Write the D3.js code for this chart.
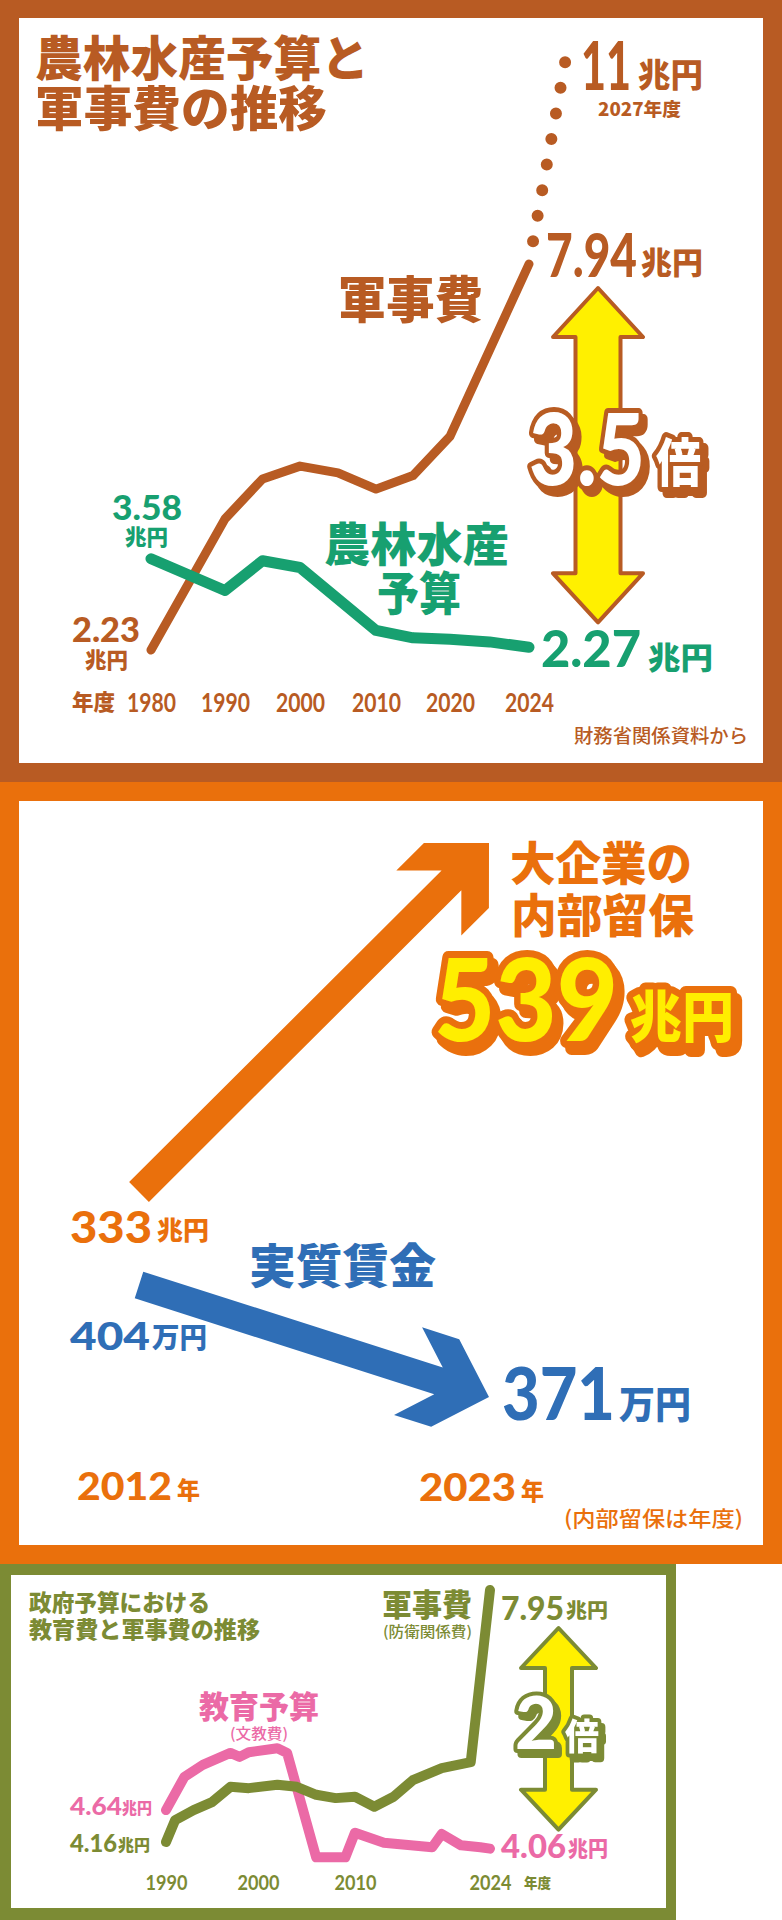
<!DOCTYPE html>
<html>
<head>
<meta charset="utf-8">
<script src="https://cdn.jsdelivr.net/npm/d3@7"></script>
<style>
  body { margin: 0; background: #fff; }
  svg { display: block; }
</style>
</head>
<body>
<div id="chart"></div>
<script>
// ---- data ----
// panel 1: 農林水産予算と軍事費 (兆円)
const p1TickYears = [1980, 1990, 2000, 2010, 2020, 2024];
const defenseYears = [1980, 1990, 1995, 2000, 2005, 2010, 2015, 2020, 2024];
const defenseValues = [2.23, 4.17, 4.76, 4.95, 4.85, 4.61, 4.81, 5.39, 7.94];
const forecastYears = [2024, 2027];
const forecastValues = [7.94, 11];
const farmYears = [1980, 1990, 1995, 2000, 2010, 2015, 2020, 2022, 2024];
const farmValues = [3.58, 3.11, 3.55, 3.45, 2.52, 2.41, 2.39, 2.35, 2.27];

// panel 2: 内部留保 (兆円) と 実質賃金 (万円)
const p2Years = [2012, 2023];
const retainedValues = [333, 539];
const wageValues = [404, 371];

// panel 3: 教育費と軍事費 (兆円)
const p3TickYears = [1990, 2000, 2010, 2024];
const eduYears = [1990, 1992, 1994, 1997, 1998, 1999, 2002, 2003, 2006, 2009, 2010, 2013, 2018, 2019, 2021, 2023, 2024];
const eduValues = [4.64, 5.14, 5.32, 5.50, 5.44, 5.51, 5.57, 5.50, 3.93, 3.93, 4.30, 4.15, 4.08, 4.28, 4.11, 4.08, 4.06];
const milYears = [1990, 1991, 1993, 1995, 1997, 1999, 2002, 2004, 2006, 2008, 2010, 2012, 2014, 2016, 2019, 2022, 2024];
const milValues = [4.16, 4.49, 4.64, 4.76, 4.99, 4.97, 5.02, 4.99, 4.87, 4.82, 4.84, 4.69, 4.84, 5.09, 5.27, 5.36, 7.95];

// ---- colours / fonts ----
const BROWN = "#b85b23", GREEN = "#17a070", ORANGE = "#ea700c", BLUE = "#2f6eb6",
      OLIVE = "#7c8b34", PINK = "#eb6aa6", YELLOW = "#fff000";
const JP = "'Noto Sans CJK JP', 'Noto Sans', sans-serif";
const NUM = "Lato, 'Noto Sans', sans-serif";

const svg = d3.select("#chart").append("svg").attr("width", 782).attr("height", 1920);
const defs = svg.append("defs");

// solid offset shadow, so the big numbers need no duplicate text
function shadowFilter(id, color, dx, dy) {
    let f = defs.append("filter").attr("id", id)
        .attr("x", "-20%").attr("y", "-20%").attr("width", "140%").attr("height", "140%");
    f.append("feFlood").attr("flood-color", color).attr("result", "c");
    f.append("feComposite").attr("in", "c").attr("in2", "SourceAlpha").attr("operator", "in").attr("result", "s");
    f.append("feOffset").attr("in", "s").attr("dx", dx).attr("dy", dy).attr("result", "o");
    let m = f.append("feMerge");
    m.append("feMergeNode").attr("in", "o");
    m.append("feMergeNode").attr("in", "SourceGraphic");
}
shadowFilter("shBrown", BROWN, 5, 6);
shadowFilter("shOrange", ORANGE, 5, 7);
shadowFilter("shOlive", OLIVE, 4, 5);

function label(g, txt, x, y, o) {
    let t = g.append("text")
        .attr("x", x).attr("y", y).text(txt)
        .attr("font-family", o.font || JP)
        .attr("font-weight", o.weight || 900)
        .attr("font-size", o.size)
        .attr("fill", o.color)
        .attr("text-anchor", o.anchor || "start");
    if (o.len) t.attr("textLength", o.len).attr("lengthAdjust", "spacingAndGlyphs");
    return t;
}

// outlined text with an offset shadow
function bigText(g, txt, x, y, o) {
    label(g, txt, x, y, Object.assign({}, o, {color: o.fill}))
        .attr("stroke", o.stroke).attr("stroke-width", o.sw).attr("stroke-linejoin", "round")
        .attr("paint-order", "stroke").attr("filter", "url(#" + o.filter + ")");
}

function frame(g, x, y, w, h, bw, color) {
    g.append("rect").attr("x", x).attr("y", y).attr("width", w).attr("height", h).attr("fill", color);
    g.append("rect").attr("x", x + bw[3]).attr("y", y + bw[0])
        .attr("width", w - bw[1] - bw[3]).attr("height", h - bw[0] - bw[2]).attr("fill", "#fff");
}

function doubleArrow(g, cx, top, bottom, headW, headL, shaftW, stroke) {
    let hw = headW / 2, sw = shaftW / 2;
    let pts = [[cx, top], [cx + hw, top + headL], [cx + sw, top + headL], [cx + sw, bottom - headL],
        [cx + hw, bottom - headL], [cx, bottom], [cx - hw, bottom - headL], [cx - sw, bottom - headL],
        [cx - sw, top + headL], [cx - hw, top + headL]];
    g.append("polygon").attr("points", pts.map(p => p.join(",")).join(" "))
        .attr("fill", YELLOW).attr("stroke", stroke).attr("stroke-width", 4).attr("stroke-linejoin", "round");
}

// thick arrow with a chevron head, from tail point to tip point
function chevronArrow(g, x0, y0, x1, y1, color) {
    let len = Math.hypot(x1 - x0, y1 - y0);
    let ux = (x1 - x0) / len, uy = (y1 - y0) / len, vx = -uy, vy = ux;
    let local = [[-len, -14], [-53, -14], [-85, -46], [-46, -46], [0, 0],
        [-46, 46], [-85, 46], [-53, 14], [-len, 14]];
    let pts = local.map(([a, b]) => [x1 + a * ux + b * vx, y1 + a * uy + b * vy]);
    g.append("polygon").attr("points", pts.map(p => p.join(",")).join(" ")).attr("fill", color);
}

function yearAxis(g, scale, ticks, y, size, len, color) {
    let ax = g.append("g").attr("transform", "translate(0," + y + ")")
        .call(d3.axisBottom(scale).tickValues(ticks).tickSize(0).tickFormat(d3.format("d")));
    ax.select(".domain").remove();
    ax.selectAll("text").attr("y", 0).attr("dy", null)
        .attr("font-family", NUM).attr("font-weight", 700).attr("font-size", size)
        .attr("fill", color).attr("textLength", len).attr("lengthAdjust", "spacingAndGlyphs");
}

function drawLine(g, line, xs, ys, color, w) {
    g.append("path").attr("d", line(d3.zip(xs, ys)))
        .attr("fill", "none").attr("stroke", color).attr("stroke-width", w)
        .attr("stroke-linecap", "round").attr("stroke-linejoin", "round");
}

function panel1() {
    let g = svg.append("g");
    frame(g, 0, 0, 782, 782, [18, 19, 19, 19], BROWN);

    let x = d3.scaleLinear().domain(p1TickYears.concat([forecastYears[1]]))
        .range([151, 225, 300, 376, 450, 529, 566]);
    let y = d3.scaleLinear().domain([2.23, 7.94]).range([650, 264]);
    let line = d3.line().x(d => x(d[0])).y(d => y(d[1]));

    label(g, "農林水産予算と", 35, 76, {size: 48, color: BROWN, len: 334});
    label(g, "軍事費の推移", 35, 126, {size: 48, color: BROWN, len: 292});

    // forecast dots
    g.append("path").attr("d", line(d3.zip(forecastYears, forecastValues)))
        .attr("fill", "none").attr("stroke", BROWN).attr("stroke-width", 12)
        .attr("stroke-linecap", "round").attr("stroke-dasharray", "0 26").attr("stroke-dashoffset", 3);

    drawLine(g, line, defenseYears, defenseValues, BROWN, 9);
    drawLine(g, line, farmYears, farmValues, GREEN, 11);

    doubleArrow(g, 598, y(7.94) + 24, y(2.27) - 25, 90, 49, 45, BROWN);

    label(g, "11", 581, 90, {size: 66, color: BROWN, font: NUM, len: 50});
    label(g, "兆円", 638, 87, {size: 33, color: BROWN, len: 65});
    label(g, "2027年度", 598, 116, {size: 18, color: BROWN, len: 83});
    label(g, "7.94", 546, 277, {size: 61, color: BROWN, font: NUM, len: 91});
    label(g, "兆円", 641, 274, {size: 31, color: BROWN, len: 62});
    label(g, "軍事費", 338, 318, {size: 50, color: BROWN, len: 145});

    bigText(g, "3.5", 529, 485, {size: 100, font: NUM, len: 116, fill: "#fff",
        stroke: BROWN, sw: 10, filter: "shBrown"});
    bigText(g, "倍", 656, 482, {size: 52, len: 45, fill: "#fff", stroke: BROWN, sw: 10, filter: "shBrown"});

    label(g, "3.58", 112, 520, {size: 35, color: GREEN, font: NUM, len: 70});
    label(g, "兆円", 125, 545, {size: 22, color: GREEN, len: 43});
    label(g, "2.23", 72, 642, {size: 35, color: BROWN, font: NUM, len: 68});
    label(g, "兆円", 85, 668, {size: 22, color: BROWN, len: 43});
    label(g, "農林水産", 324, 561, {size: 46, color: GREEN, len: 185});
    label(g, "予算", 377, 610, {size: 46, color: GREEN, len: 84});
    label(g, "2.27", 541, 667, {size: 52, color: GREEN, font: NUM, len: 100});
    label(g, "兆円", 648, 669, {size: 31, color: GREEN, len: 65});

    label(g, "年度", 72, 710, {size: 22, color: BROWN, len: 43});
    yearAxis(g, x, p1TickYears, 712, 26, 49, BROWN);
    label(g, "財務省関係資料から", 748, 743, {size: 19, color: BROWN, weight: 500, anchor: "end", len: 174});
}

function panel2() {
    let g = svg.append("g");
    frame(g, 0, 782, 782, 782, [19, 19, 19, 19], ORANGE);

    let x = d3.scaleLinear().domain(p2Years).range([139, 489]);
    let yR = d3.scaleLinear().domain(retainedValues).range([1192, 843]);
    let yW = d3.scaleLinear().domain(wageValues).range([1285, 1397]);

    chevronArrow(g, x(p2Years[0]), yR(retainedValues[0]), x(p2Years[1]), yR(retainedValues[1]), ORANGE);
    chevronArrow(g, x(p2Years[0]), yW(wageValues[0]), x(p2Years[1]), yW(wageValues[1]), BLUE);

    label(g, "大企業の", 510, 880, {size: 46, color: ORANGE, len: 182});
    label(g, "内部留保", 511, 932, {size: 46, color: ORANGE, len: 183});
    bigText(g, "539", 434, 1041, {size: 115, font: NUM, len: 184, fill: "#ffee00",
        stroke: ORANGE, sw: 14, filter: "shOrange"});
    bigText(g, "兆円", 630, 1037, {size: 56, len: 104, fill: "#ffee00",
        stroke: ORANGE, sw: 14, filter: "shOrange"});

    label(g, "333", 70, 1243, {size: 44, color: ORANGE, font: NUM, len: 82});
    label(g, "兆円", 157, 1240, {size: 26, color: ORANGE, len: 52});
    label(g, "実質賃金", 249, 1283, {size: 47, color: BLUE, len: 187});
    label(g, "404", 70, 1350, {size: 38, color: BLUE, font: NUM, len: 80});
    label(g, "万円", 152, 1348, {size: 28, color: BLUE, len: 55});
    label(g, "371", 502, 1420, {size: 72, color: BLUE, font: NUM, len: 113});
    label(g, "万円", 619, 1418, {size: 38, color: BLUE, len: 72});

    label(g, "2012", x(2012) - 62, 1500, {size: 38, color: ORANGE, font: NUM, len: 95});
    label(g, "年", x(2012) + 38, 1499, {size: 24, color: ORANGE, len: 23});
    label(g, "2023", x(2023) - 70, 1501, {size: 38, color: ORANGE, font: NUM, len: 97});
    label(g, "年", x(2023) + 32, 1500, {size: 24, color: ORANGE, len: 23});
    label(g, "(内部留保は年度)", 564, 1526, {size: 21, color: ORANGE, weight: 500, len: 179});
}

function panel3() {
    let g = svg.append("g");
    frame(g, 0, 1564, 676, 356, [11, 10, 12, 11], OLIVE);

    let x = d3.scaleLinear().domain(p3TickYears).range([166, 258, 355, 490]);
    let y = d3.scaleLinear().domain([4.16, 7.95]).range([1842, 1590]);
    let line = d3.line().x(d => x(d[0])).y(d => y(d[1]));

    label(g, "政府予算における", 29, 1611, {size: 23, color: OLIVE, len: 181});
    label(g, "教育費と軍事費の推移", 29, 1638, {size: 23, color: OLIVE, len: 231});

    drawLine(g, line, eduYears, eduValues, PINK, 10);
    drawLine(g, line, milYears, milValues, OLIVE, 10);

    doubleArrow(g, 558.5, y(7.95) + 38, y(4.06) - 19, 75, 40, 27, OLIVE);
    bigText(g, "2", 515, 1749, {size: 72, font: NUM, len: 42, fill: "#fff",
        stroke: OLIVE, sw: 8, filter: "shOlive"});
    bigText(g, "倍", 565, 1750, {size: 36, len: 34, fill: "#fff", stroke: OLIVE, sw: 8, filter: "shOlive"});

    label(g, "軍事費", 382, 1616, {size: 31, color: OLIVE, len: 90});
    label(g, "(防衛関係費)", 383, 1637, {size: 15, color: OLIVE, weight: 500, len: 89});
    label(g, "7.95", 501, 1620, {size: 32, color: OLIVE, font: NUM, len: 63});
    label(g, "兆円", 566, 1618, {size: 20, color: OLIVE, len: 42});

    label(g, "教育予算", 199, 1718, {size: 31, color: PINK, len: 120});
    label(g, "(文教費)", 230, 1739, {size: 15, color: PINK, weight: 500, len: 58});

    label(g, "4.64", 70, 1815, {size: 24, color: PINK, font: NUM, len: 52});
    label(g, "兆円", 122, 1814, {size: 16, color: PINK, len: 30});
    label(g, "4.16", 70, 1852, {size: 24, color: OLIVE, font: NUM, len: 47});
    label(g, "兆円", 118, 1851, {size: 16, color: OLIVE, len: 32});
    label(g, "4.06", 501, 1858, {size: 32, color: PINK, font: NUM, len: 65});
    label(g, "兆円", 568, 1856, {size: 21, color: PINK, len: 40});

    yearAxis(g, x, p3TickYears, 1890, 21, 42, OLIVE);
    label(g, "年度", 524, 1888, {size: 14, color: OLIVE, len: 27});
}

panel1();
panel2();
panel3();
</script>
</body>
</html>
